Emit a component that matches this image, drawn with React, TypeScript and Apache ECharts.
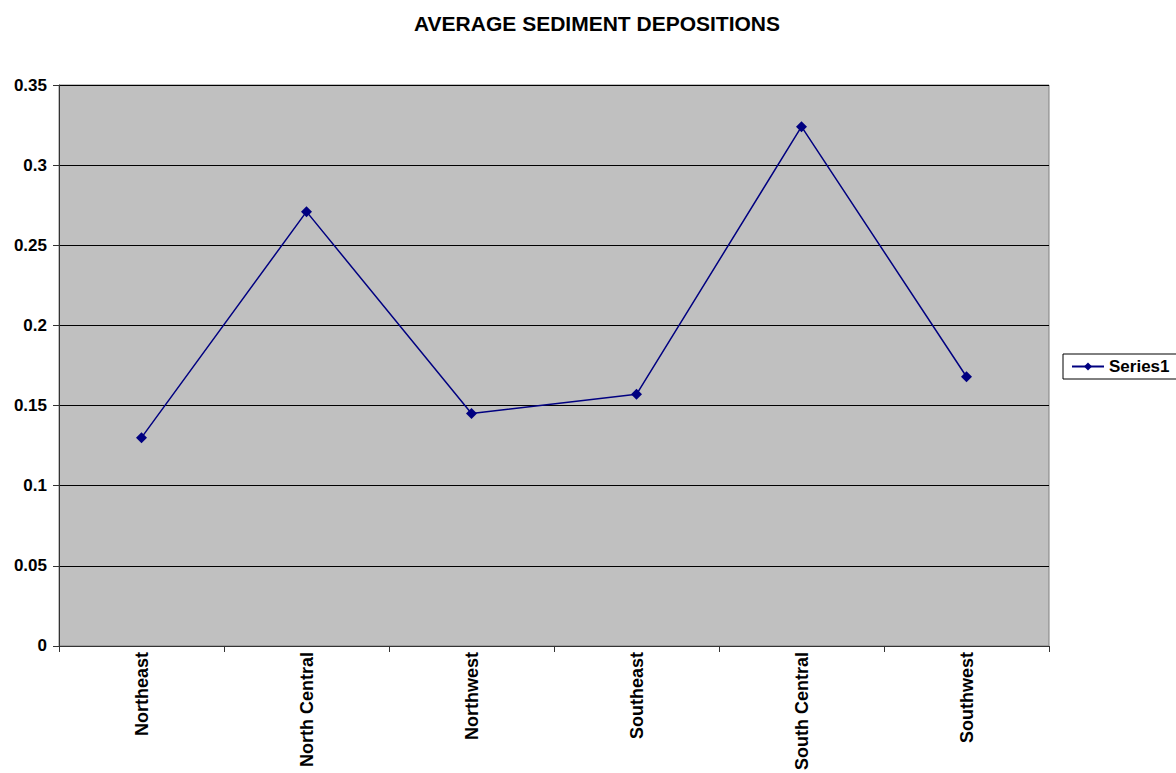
import React, { useEffect, useRef } from "react";
import * as echarts from "echarts";

const categories = ["Northeast", "North Central", "Northwest", "Southeast", "South Central", "Southwest"];
const series1 = [0.13, 0.271, 0.145, 0.157, 0.324, 0.168];
const yTicks = [0, 0.05, 0.1, 0.15, 0.2, 0.25, 0.3, 0.35];

export default function App() {
  const ref = useRef<HTMLDivElement>(null);
  useEffect(() => {
    if (!ref.current) return;
    const chart = echarts.init(ref.current, undefined, { renderer: "svg" });
    const font = "'Liberation Sans', Arial, sans-serif";
    chart.setOption({
      animation: false,
      backgroundColor: "#ffffff",
      title: {
        text: "AVERAGE SEDIMENT DEPOSITIONS",
        left: 592,
        textAlign: "center",
        top: 8,
        textStyle: { fontFamily: font, fontWeight: "bold", fontSize: 21, color: "#000" },
      },
      legend: {
        left: 1063,
        top: 354,
        orient: "vertical",
        data: ["Series1"],
        borderColor: "#000",
        borderWidth: 1,
        borderRadius: 0,
        padding: [4, 8, 4, 8],
        itemWidth: 32,
        itemHeight: 10,
        itemGap: 4,
        textStyle: { fontFamily: font, fontWeight: "bold", fontSize: 17, color: "#000" },
      },
      grid: {
        left: 59,
        right: 127,
        top: 85,
        bottom: 123,
        show: true,
        backgroundColor: "#c0c0c0",
        borderColor: "#808080",
        borderWidth: 1,
      },
      xAxis: {
        type: "category",
        data: categories,
        boundaryGap: true,
        axisLine: { show: true, lineStyle: { color: "#333", width: 1 } },
        axisTick: { show: true, inside: false, length: 6, alignWithLabel: false, lineStyle: { color: "#333" } },
        axisLabel: {
          rotate: 90,
          interval: 0,
          margin: 6,
          fontFamily: font,
          fontWeight: "bold",
          fontSize: 18,
          color: "#000",
        },
      },
      yAxis: {
        type: "value",
        min: 0,
        max: 0.35,
        interval: 0.05,
        axisLine: { show: true, lineStyle: { color: "#333", width: 1 } },
        axisTick: { show: true, length: 6, lineStyle: { color: "#333" } },
        splitLine: { show: true, lineStyle: { color: "#000", width: 1 } },
        axisLabel: {
          margin: 12,
          fontFamily: font,
          fontWeight: "bold",
          fontSize: 17,
          color: "#000",
          formatter: (v: number) => {
            const t = yTicks.find((x) => Math.abs(x - v) < 1e-9);
            return String(t !== undefined ? parseFloat(t.toFixed(2)) : v);
          },
        },
      },
      series: [
        {
          name: "Series1",
          type: "line",
          data: series1,
          symbol: "diamond",
          symbolSize: 11,
          showAllSymbol: true,
          lineStyle: { color: "#000080", width: 1.5 },
          itemStyle: { color: "#000080" },
        },
      ],
    });
    return () => chart.dispose();
  }, []);
  return <div ref={ref} style={{ width: 1176, height: 773, position: "absolute", left: 0, top: 0 }} />;
}
